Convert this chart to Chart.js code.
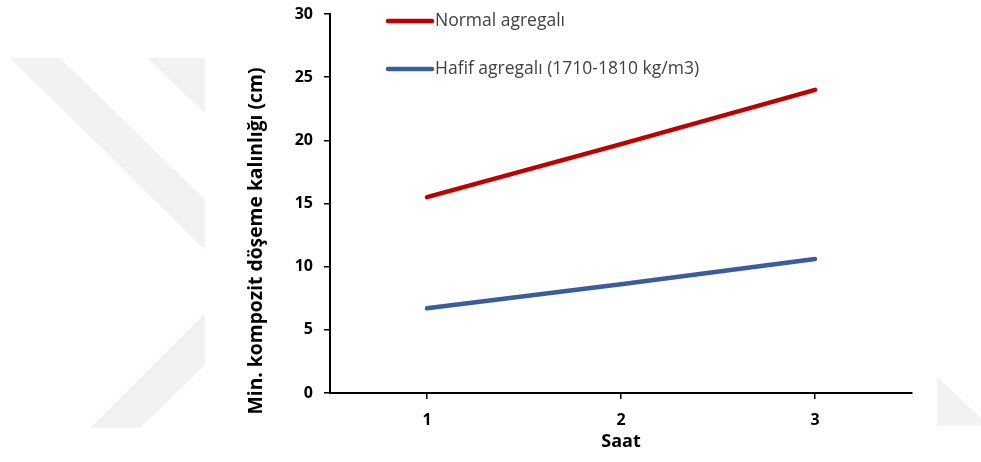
<!DOCTYPE html>
<html>
<head>
<meta charset="utf-8">
<script src="https://cdn.jsdelivr.net/npm/chart.js@4.4.1/dist/chart.umd.min.js"></script>
<style>
  html, body { margin: 0; padding: 0; background: #fff; }
  #wrap { width: 981px; height: 462px; }
</style>
</head>
<body>
<div id="wrap"><canvas id="myChart" width="981" height="462"></canvas></div>
<script>
"use strict";

// data
const hours = ["1", "2", "3"];
const normalValues = [15.5, 19.7, 24.0];
const lightValues = [6.7, 8.6, 10.6];
const seriesLabels = ["Normal agregalı", "Hafif agregalı (1710-1810 kg/m3)"];
const yTicks = [0, 5, 10, 15, 20, 25, 30];
const yTitle = "Min. kompozit döşeme kalınlığı (cm)";

// faint watermark behind the plot + white panel
const backdrop = {
  id: "backdrop",
  beforeDraw(chart) {
    const ctx = chart.ctx;
    ctx.save();
    ctx.fillStyle = "#fff";
    ctx.fillRect(0, 0, chart.width, chart.height);
    ctx.fillStyle = "#f2f2f2";
    const polys = [
      [[10, 58], [60, 58], [205, 200], [205, 250]],
      [[147, 58], [205, 58], [205, 113]],
      [[90, 428], [205, 313], [205, 365], [140, 428]],
      [[937, 377], [981, 418], [981, 426], [937, 426]],
    ];
    polys.forEach(function (p) {
      ctx.beginPath();
      ctx.moveTo(p[0][0], p[0][1]);
      for (let i = 1; i < p.length; i++) ctx.lineTo(p[i][0], p[i][1]);
      ctx.closePath();
      ctx.fill();
    });
    ctx.restore();
  },
};

// legend inside the plot (top left) and the y title, which sits lower than centre
const extras = {
  id: "extras",
  afterDraw(chart) {
    const ctx = chart.ctx;
    const x0 = chart.chartArea.left + 58;
    ctx.save();
    ctx.font = "17.5px 'Open Sans'";
    ctx.textBaseline = "middle";
    chart.data.datasets.forEach(function (ds, i) {
      const y = 21 + i * 48;
      ctx.strokeStyle = ds.borderColor;
      ctx.lineWidth = 4.5;
      ctx.lineCap = "round";
      ctx.beginPath();
      ctx.moveTo(x0, y);
      ctx.lineTo(x0 + 44, y);
      ctx.stroke();
      ctx.fillStyle = "#404040";
      ctx.fillText(ds.label, x0 + 47, y);
    });

    ctx.translate(257, 241);
    ctx.rotate(-Math.PI / 2);
    ctx.textAlign = "center";
    ctx.fillStyle = "#000";
    ctx.font = "bold 19.3px 'Open Sans'";
    ctx.fillText(yTitle, 0, 0);
    ctx.restore();
  },
};

const data = {
  labels: hours,
  datasets: [
    {
      label: seriesLabels[0],
      data: normalValues,
      borderColor: "#c00000",
      borderWidth: 4.5,
      borderCapStyle: "round",
      pointRadius: 0,
      tension: 0,
    },
    {
      label: seriesLabels[1],
      data: lightValues,
      borderColor: "#3a5d9c",
      borderWidth: 4.5,
      borderCapStyle: "round",
      pointRadius: 0,
      tension: 0,
    },
  ],
};

const config = {
  type: "line",
  data,
  plugins: [backdrop, extras],
  options: {
    responsive: false,
    animation: false,
    layout: { padding: { left: 244, right: 69, top: 14, bottom: 0 } },
    plugins: {
      legend: { display: false },
      tooltip: { enabled: false },
    },
    scales: {
      x: {
        offset: true,
        grid: {
          display: true,
          drawOnChartArea: false,
          offset: false,
          color: "#000",
          lineWidth: 1.5,
          tickLength: 6,
        },
        border: { color: "#000", width: 2 },
        ticks: {
          color: "#000",
          font: { family: "'Open Sans'", size: 16, weight: "bold" },
          padding: 12,
        },
        title: {
          display: true,
          text: "Saat",
          color: "#000",
          font: { family: "'Open Sans'", size: 18, weight: "bold" },
          padding: { top: 0, bottom: 9 },
        },
        afterFit(scale) { scale.height = 69; },
      },
      y: {
        min: 0,
        max: 30,
        afterBuildTicks(scale) {
          scale.ticks = yTicks.map(function (v) { return { value: v }; });
        },
        grid: {
          display: true,
          drawOnChartArea: false,
          color: "#000",
          lineWidth: 1.5,
          tickLength: 6,
        },
        border: { color: "#000", width: 2 },
        ticks: {
          color: "#000",
          font: { family: "'Open Sans'", size: 16, weight: "bold" },
          padding: 11,
        },
        title: { display: false },
        afterFit(scale) {
          scale.width = 86;
          scale.paddingTop = 0;
          scale.paddingBottom = 0;
        },
      },
    },
  },
};

const myChart = new Chart(document.getElementById("myChart"), config);
</script>
</body>
</html>
